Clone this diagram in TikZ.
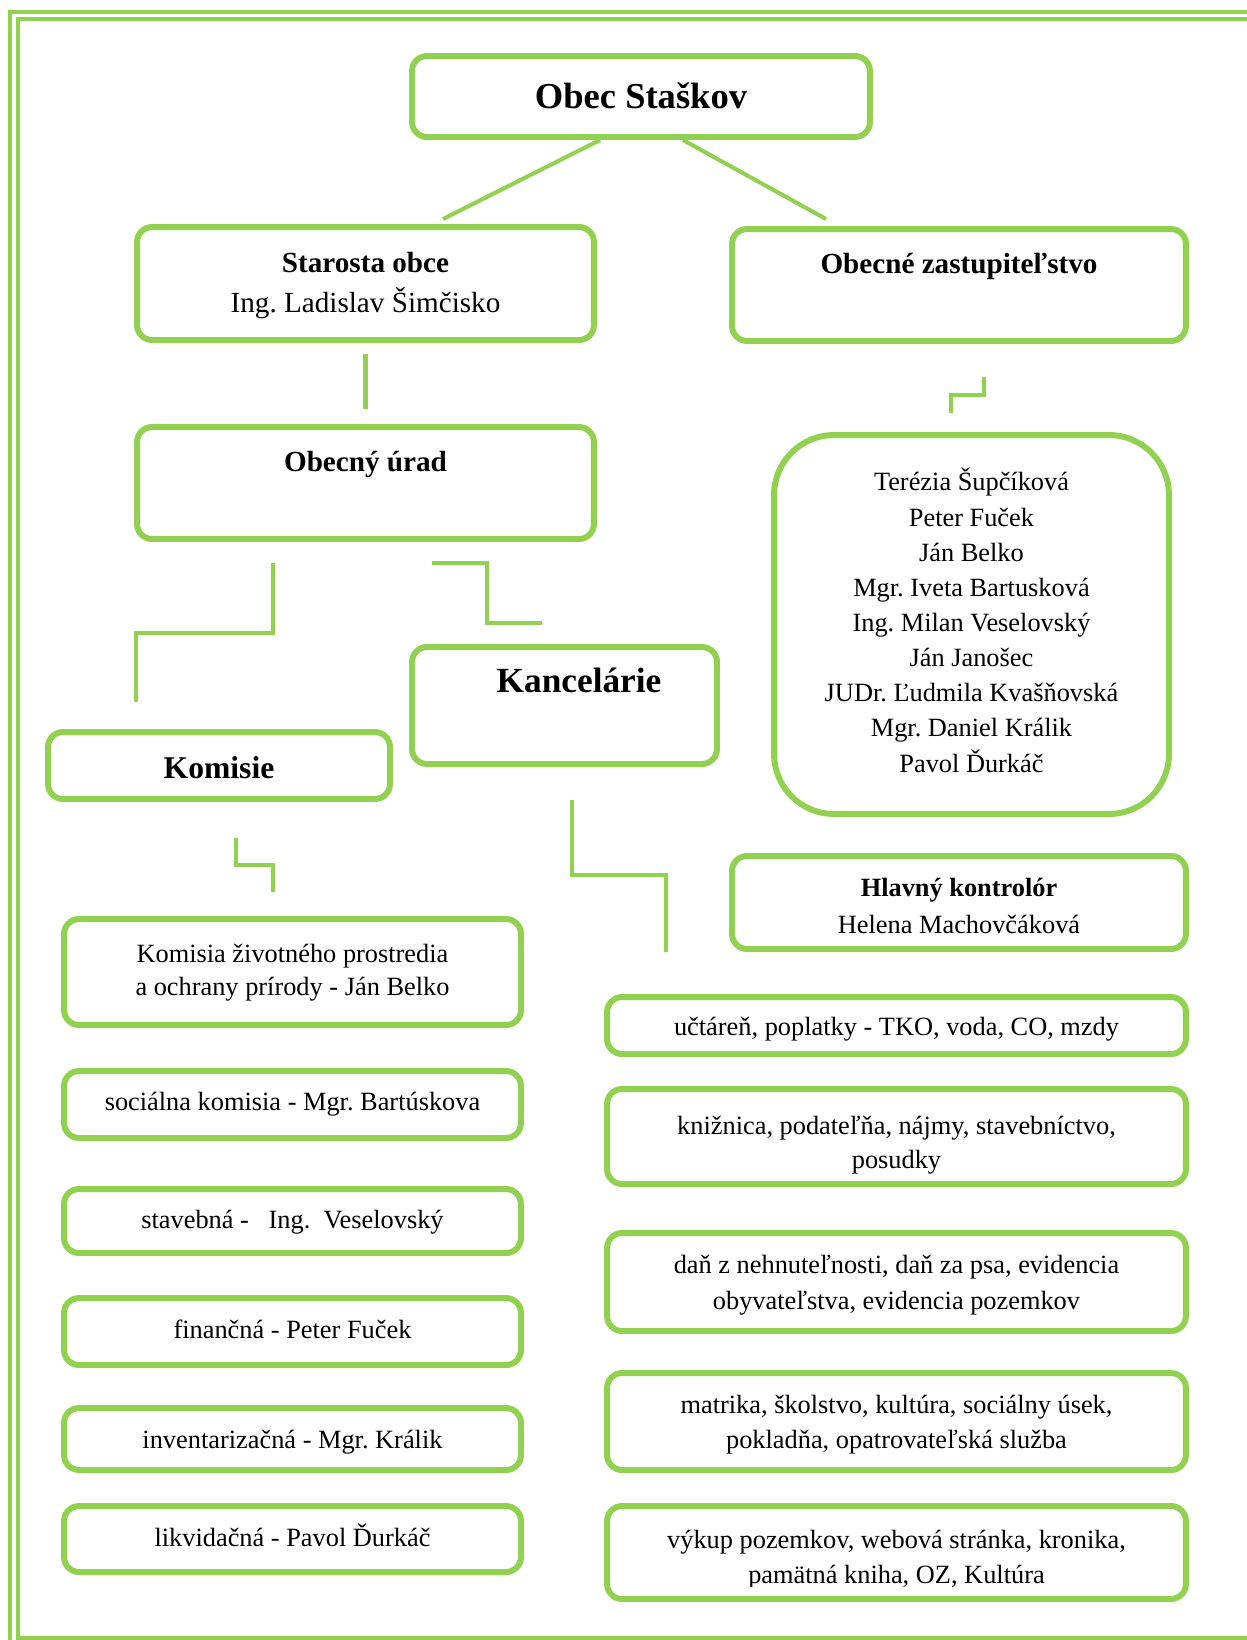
\documentclass[tikz,border=0pt]{standalone}
\usepackage{fontspec}
\setmainfont{Liberation Serif}
\frenchspacing
\usetikzlibrary{calc}
\definecolor{leafGreen}{HTML}{92D050}

\begin{document}
\begin{tikzpicture}[
  x=0.02cm, y=-0.02cm,
  unitBox/.style={draw=leafGreen,line width=3.4pt,rounded corners=0.3cm,inner sep=0pt},
  bigBox/.style={unitBox,rounded corners=1.2cm},
  linkLine/.style={draw=leafGreen,line width=2.3pt},
  frameLine/.style={draw=leafGreen,line width=2.3pt},
  titleText/.style={font=\fontsize{20.8}{24}\selectfont\bfseries},
  headText/.style={font=\fontsize{16.6}{22.7}\selectfont,align=center},
  officeText/.style={font=\fontsize{18}{22}\selectfont\bfseries},
  listText/.style={font=\fontsize{15}{19.8}\selectfont,align=center},
  every node/.style={inner sep=0pt}]

  \useasboundingbox (0,0) rectangle (1247,1640);

  % double frame round the page
  \draw [frameLine] (10,1640) -- (10,12) -- (1247,12);
  \draw [frameLine] (1247,1637.5) -- (18,1637.5) -- (18,19) -- (1247,19);

  % boxes
  \node[unitBox,minimum width=9.16cm,minimum height=1.62cm] (obec) at (641,96.5) {};
  \node[unitBox,minimum width=9.14cm,minimum height=2.26cm] (starosta) at (365.5,283.5) {};
  \node[unitBox,minimum width=9.08cm,minimum height=2.24cm] (zast) at (959,285) {};
  \node[unitBox,minimum width=9.14cm,minimum height=2.24cm] (urad) at (365.5,483) {};
  \node[bigBox,minimum width=7.9cm,minimum height=7.58cm] (poslanci) at (971.5,624.5) {};
  \node[unitBox,minimum width=6.84cm,minimum height=1.34cm] (komisie) at (219,765.5) {};
  \node[unitBox,minimum width=6.1cm,minimum height=2.34cm] (kancel) at (564.5,705.5) {};
  \node[unitBox,minimum width=9.08cm,minimum height=1.86cm] (kontrolor) at (959,902.5) {};

  \node[unitBox,minimum width=9.14cm,minimum height=2.12cm] (kom1) at (292.5,972) {};
  \node[unitBox,minimum width=9.14cm,minimum height=1.34cm] (kom2) at (292.5,1104.5) {};
  \node[unitBox,minimum width=9.14cm,minimum height=1.28cm] (kom3) at (292.5,1221) {};
  \node[unitBox,minimum width=9.14cm,minimum height=1.34cm] (kom4) at (292.5,1331.5) {};
  \node[unitBox,minimum width=9.14cm,minimum height=1.24cm] (kom5) at (292.5,1439) {};
  \node[unitBox,minimum width=9.14cm,minimum height=1.32cm] (kom6) at (292.5,1539) {};

  \node[unitBox,minimum width=11.58cm,minimum height=1.14cm] (kan1) at (896.5,1025.5) {};
  \node[unitBox,minimum width=11.58cm,minimum height=1.9cm] (kan2) at (896.5,1136.5) {};
  \node[unitBox,minimum width=11.58cm,minimum height=1.96cm] (kan3) at (896.5,1282) {};
  \node[unitBox,minimum width=11.58cm,minimum height=1.94cm] (kan4) at (896.5,1421.5) {};
  \node[unitBox,minimum width=11.58cm,minimum height=1.86cm] (kan5) at (896.5,1552.5) {};

  % texts (multi-line texts sit on the baseline of their last line)
  \node[titleText,anchor=base] (obecTxt) at (641,108) {Obec Staškov};
  \node[headText,anchor=base] (starostaTxt) at (365.5,312) {\textbf{Starosta obce}\\Ing. Ladislav Šimčisko};
  \node[headText,anchor=base] (zastTxt) at (959,273) {\textbf{Obecné zastupiteľstvo}};
  \node[headText,anchor=base] (uradTxt) at (365.5,471) {\textbf{Obecný úrad}};
  \node[officeText,anchor=base,font=\fontsize{20.1}{24}\selectfont\bfseries] (kancelTxt) at (579,692) {Kancelárie};
  \node[officeText,anchor=base] (komisieTxt) at (219,778) {Komisie};
  \node[listText,anchor=base,font=\fontsize{15}{20}\selectfont] (poslanciTxt) at (971.5,772) {Terézia Šupčíková\\Peter Fuček\\Ján Belko\\Mgr. Iveta Bartusková\\Ing. Milan Veselovský\\Ján Janošec\\JUDr. Ľudmila Kvašňovská\\Mgr. Daniel Králik\\Pavol Ďurkáč};
  \node[listText,anchor=base,font=\fontsize{15}{20.7}\selectfont] (kontrolorTxt) at (959,933) {\textbf{Hlavný kontrolór}\\Helena Machovčáková};

  \node[listText,anchor=base,font=\fontsize{15}{18.7}\selectfont] (kom1Txt) at (292.5,995) {Komisia životného prostredia\\a ochrany prírody - Ján Belko};
  \node[listText,anchor=base] (kom2Txt) at (292.5,1110) {sociálna komisia - Mgr. Bartúskova};
  \node[listText,anchor=base] (kom3Txt) at (292.5,1228) {stavebná -\ \ \ Ing.\ \ Veselovský};
  \node[listText,anchor=base] (kom4Txt) at (292.5,1338) {finančná - Peter Fuček};
  \node[listText,anchor=base] (kom5Txt) at (292.5,1448) {inventarizačná - Mgr. Králik};
  \node[listText,anchor=base] (kom6Txt) at (292.5,1546) {likvidačná - Pavol Ďurkáč};

  \node[listText,anchor=base] (kan1Txt) at (896.5,1035) {učtáreň, poplatky - TKO, voda, CO, mzdy};
  \begin{scope}
    \clip (kan2.north west) rectangle ($(kan2.south east)+(0,-12)$);
    \node[listText,anchor=base,font=\fontsize{15}{19.3}\selectfont] (kan2Txt) at (896.5,1168) {knižnica, podateľňa, nájmy, stavebníctvo,\\posudky};
  \end{scope}
  \node[listText,anchor=base,font=\fontsize{15}{20.4}\selectfont] (kan3Txt) at (896.5,1309) {daň z nehnuteľnosti, daň za psa, evidencia\\obyvateľstva, evidencia pozemkov};
  \node[listText,anchor=base] (kan4Txt) at (896.5,1448) {matrika, školstvo, kultúra, sociálny úsek,\\pokladňa, opatrovateľská služba};
  \begin{scope}
    \clip (kan5.north west) rectangle ($(kan5.south east)+(0,-15)$);
    \node[listText,anchor=base] (kan5Txt) at (896.5,1583) {výkup pozemkov, webová stránka, kronika,\\pamätná kniha, OZ, Kultúra};
  \end{scope}

  % connectors
  \coordinate (zastA) at (984,377);
  \coordinate (zastB) at (951,413);
  \coordinate (uradA) at (273,563);
  \coordinate (uradB) at (136,702);
  \coordinate (uradC) at (432,563);
  \coordinate (uradD) at (542,623);
  \coordinate (komA) at (236,838);
  \coordinate (komB) at (273,892);
  \coordinate (kanA) at (572,800);
  \coordinate (kanB) at (666,952);

  \draw [linkLine] ($(obec.south)+(-41,0)$) -- ($(starosta.north)+(77.5,-5)$);
  \draw [linkLine] ($(obec.south)+(42,0)$) -- ($(zast.north)+(-133,-7)$);
  \draw [linkLine] ($(starosta.south)+(0,11)$) -- ($(urad.north)+(0,-15)$);
  \draw [linkLine] (zastA) -- ++(0,18) -| (zastB);
  \draw [linkLine] (uradA) -- ++(0,70) -| (uradB);
  \draw [linkLine] (uradC) -- ++(55,0) |- (uradD);
  \draw [linkLine] (komA) -- ++(0,27) -| (komB);
  \draw [linkLine] (kanA) -- ++(0,75) -| (kanB);

\end{tikzpicture}
\end{document}
